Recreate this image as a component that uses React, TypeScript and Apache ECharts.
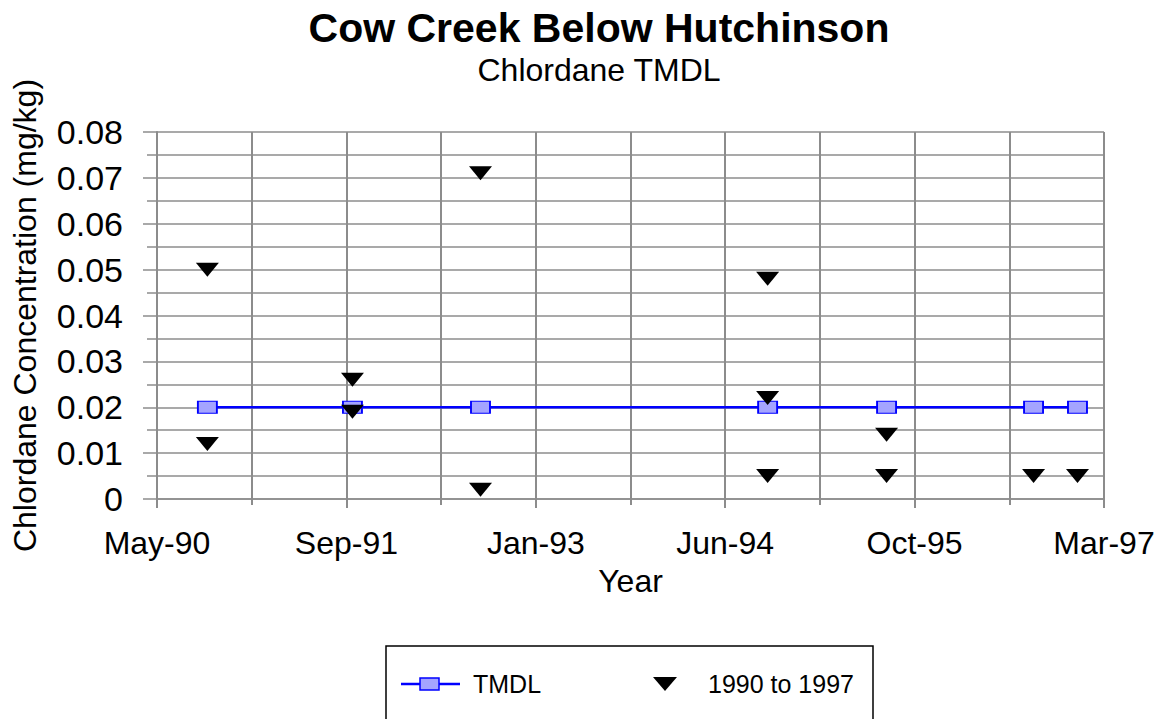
import React, { useEffect, useRef } from "react";
import * as echarts from "echarts";

// ---- Data (dates, values in mg/kg) ----
const tmdlDates = ["1990-09-17", "1991-10-05", "1992-09-07", "1994-10-05", "1995-08-15", "1996-09-06", "1996-12-31"];
const tmdlValues = [0.02, 0.02, 0.02, 0.02, 0.02, 0.02, 0.02];

const sampleDates = [
  "1990-09-17", "1990-09-17",
  "1991-10-05", "1991-10-05",
  "1992-09-07", "1992-09-07",
  "1994-10-05", "1994-10-05", "1994-10-05",
  "1995-08-15", "1995-08-15",
  "1996-09-06",
  "1996-12-31",
];
const sampleValues = [0.05, 0.012, 0.026, 0.019, 0.071, 0.002, 0.048, 0.022, 0.005, 0.014, 0.005, 0.005, 0.005];

// x axis in spreadsheet date serials: May-90 .. Mar-97
const xMin = 33000;
const xMax = 35500;
const xInterval = 500;
const yMin = 0;
const yMax = 0.08;
const yInterval = 0.01;

const monthNames = ["Jan", "Feb", "Mar", "Apr", "May", "Jun", "Jul", "Aug", "Sep", "Oct", "Nov", "Dec"];
const EPOCH = Date.UTC(1899, 11, 30);

function toSerial(s: string): number {
  const [y, m, d] = s.split("-").map(Number);
  return Math.round((Date.UTC(y, m - 1, d) - EPOCH) / 86400000);
}
function serialLabel(v: number): string {
  const dt = new Date(EPOCH + Math.round(v) * 86400000);
  return monthNames[dt.getUTCMonth()] + "-" + String(dt.getUTCFullYear()).slice(2);
}

const FONT = "'Liberation Sans', Arial, sans-serif";
const GRID_COLOR = "#8c8c8c";

export default function App() {
  const ref = useRef<HTMLDivElement>(null);

  useEffect(() => {
    if (!ref.current) return;
    const chart = echarts.init(ref.current, undefined, { renderer: "svg" });

    const tmdlData = tmdlDates.map((d, i) => [toSerial(d), tmdlValues[i]]);
    const sampleData = sampleDates.map((d, i) => [toSerial(d), sampleValues[i]]);

    const option: any = {
      animation: false,
      backgroundColor: "#ffffff",
      title: [
        {
          text: "Cow Creek Below Hutchinson",
          left: 599,
          top: 7,
          textAlign: "center",
          padding: 0,
          textStyle: { fontFamily: FONT, fontSize: 41, fontWeight: "bold", color: "#000" },
        },
        {
          text: "Chlordane TMDL",
          left: 599,
          top: 54,
          textAlign: "center",
          padding: 0,
          textStyle: { fontFamily: FONT, fontSize: 32, fontWeight: "normal", color: "#000" },
        },
      ],
      grid: { left: 157, right: 54, top: 132, bottom: 220, containLabel: false, outerBoundsMode: "none" },
      xAxis: {
        type: "value",
        min: xMin,
        max: xMax,
        interval: xInterval,
        name: "Year",
        nameLocation: "middle",
        nameGap: 66,
        nameTextStyle: { fontFamily: FONT, fontSize: 32, color: "#000" },
        axisLine: { show: true, lineStyle: { color: GRID_COLOR, width: 1.5 } },
        axisTick: { show: true, length: 9, lineStyle: { color: GRID_COLOR, width: 2 } },
        minorTick: { show: true, splitNumber: 2, length: 6, lineStyle: { color: GRID_COLOR, width: 2 } },
        axisLabel: {
          margin: 28,
          fontFamily: FONT,
          fontSize: 32,
          color: "#000",
          formatter: (v: number) => serialLabel(v),
        },
        splitLine: { show: true, lineStyle: { color: GRID_COLOR, width: 2 } },
        minorSplitLine: { show: true, lineStyle: { color: GRID_COLOR, width: 2 } },
      },
      yAxis: {
        type: "value",
        min: yMin,
        max: yMax,
        interval: yInterval,
        name: "Chlordane Concentration (mg/kg)",
        nameLocation: "middle",
        nameGap: 116,
        nameTextStyle: { fontFamily: FONT, fontSize: 32, color: "#000" },
        axisLine: { show: true, lineStyle: { color: GRID_COLOR, width: 2 } },
        axisTick: { show: true, length: 14, lineStyle: { color: GRID_COLOR, width: 1.5 } },
        minorTick: { show: true, splitNumber: 2, length: 10, lineStyle: { color: GRID_COLOR, width: 1.5 } },
        axisLabel: {
          margin: 34,
          fontFamily: FONT,
          fontSize: 34,
          color: "#000",
          formatter: (v: number) => (v === 0 ? "0" : v.toFixed(2)),
        },
        splitLine: { show: true, lineStyle: { color: GRID_COLOR, width: 1.5 } },
        minorSplitLine: { show: true, lineStyle: { color: GRID_COLOR, width: 1.5 } },
      },
      series: [
        {
          name: "TMDL",
          type: "line",
          data: tmdlData,
          symbol: "rect",
          symbolSize: [19, 12],
          lineStyle: { color: "#0000ff", width: 2.5 },
          itemStyle: { color: "#a4a4ff", borderColor: "#0000ff", borderWidth: 1.5, opacity: 1 },
          z: 2,
        },
        {
          name: "1990 to 1997",
          type: "scatter",
          data: sampleData,
          symbol: "triangle",
          symbolRotate: 180,
          symbolSize: [23, 14],
          itemStyle: { color: "#000000", opacity: 1 },
          z: 3,
        },
      ],
      graphic: [
        {
          type: "rect",
          shape: { x: 386, y: 646, width: 487, height: 82 },
          style: { fill: "#ffffff", stroke: "#000000", lineWidth: 1.5 },
          z: 10,
        },
        {
          type: "line",
          shape: { x1: 401, y1: 684, x2: 460, y2: 684 },
          style: { stroke: "#0000ff", lineWidth: 2.5 },
          z: 11,
        },
        {
          type: "rect",
          shape: { x: 420, y: 678, width: 19, height: 12 },
          style: { fill: "#a4a4ff", stroke: "#0000ff", lineWidth: 1.5 },
          z: 12,
        },
        {
          type: "text",
          x: 473,
          y: 684,
          style: { text: "TMDL", fontFamily: FONT, fontSize: 25, fill: "#000", verticalAlign: "middle", align: "left" },
          z: 12,
        },
        {
          type: "polygon",
          shape: { points: [[653, 677], [677, 677], [665, 691]] },
          style: { fill: "#000000" },
          z: 12,
        },
        {
          type: "text",
          x: 708,
          y: 684,
          style: { text: "1990 to 1997", fontFamily: FONT, fontSize: 25, fill: "#000", verticalAlign: "middle", align: "left" },
          z: 12,
        },
      ],
    };

    chart.setOption(option);
    return () => chart.dispose();
  }, []);

  return (
    <div
      ref={ref}
      style={{ position: "fixed", left: 0, top: 0, width: 1158, height: 719, background: "#fff" }}
    />
  );
}
